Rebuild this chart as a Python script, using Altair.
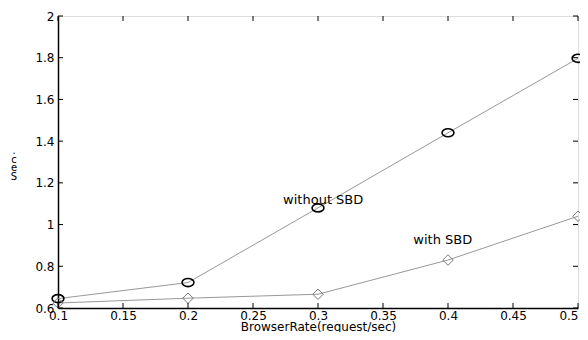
import altair as alt
import pandas as pd

rates = [0.1, 0.2, 0.3, 0.4, 0.5]
without_sbd = [0.645, 0.722, 1.08, 1.44, 1.797]
with_sbd = [0.624, 0.647, 0.666, 0.83, 1.04]

x_ticks = [0.1, 0.15, 0.2, 0.25, 0.3, 0.35, 0.4, 0.45, 0.5]
y_ticks = [0.6, 0.8, 1.0, 1.2, 1.4, 1.6, 1.8, 2.0]

ann_text = ["without SBD", "with SBD"]
ann_x = [0.304, 0.396]
ann_y = [1.12, 0.925]

y_title = ".\nc\ne\nS"

FONT = "DejaVu Sans"
W, H = 520, 292

df_w = pd.DataFrame({"x": rates, "y": without_sbd})
df_s = pd.DataFrame({"x": rates, "y": with_sbd})
df_ann = pd.DataFrame({"t": ann_text, "x": ann_x, "y": ann_y})
df_xt = pd.DataFrame({"x": x_ticks})
df_yt = pd.DataFrame({"y": y_ticks})
df_title = pd.DataFrame({"t": [y_title]})

xs = alt.Scale(domain=[0.1, 0.5], nice=False, zero=False)
ys = alt.Scale(domain=[0.6, 2.0], nice=False, zero=False)

xaxis = alt.Axis(values=x_ticks, format="~g", title="BrowserRate(request/sec)",
                 tickSize=0, labelPadding=2, domainColor="black", domainWidth=1.5,
                 labelFont=FONT, labelFontSize=12, labelColor="black",
                 labelAlign=alt.expr("datum.value >= 0.5 ? 'right' : 'center'"),
                 titleFont=FONT, titleFontSize=12, titleFontWeight="normal",
                 titleColor="black", titlePadding=0, grid=False,
                 labelFlush=False, labelOverlap=False)
yaxis = alt.Axis(values=y_ticks, format="~g", title=None,
                 tickSize=0, labelPadding=4, domainColor="black", domainWidth=1.5,
                 labelFont=FONT, labelFontSize=12, labelColor="black",
                 grid=False, labelFlush=False, labelOverlap=False)

ellipse = "M -1 0 A 1 0.68 0 1 0 1 0 A 1 0.68 0 1 0 -1 0 Z"

base_w = alt.Chart(df_w).encode(x=alt.X("x:Q", scale=xs, axis=xaxis),
                                y=alt.Y("y:Q", scale=ys, axis=yaxis))
line_w = base_w.mark_line(color="#8c8c8c", strokeWidth=0.9)
pts_w = base_w.mark_point(shape=ellipse, size=140, filled=False, color="black",
                          strokeWidth=1.6, opacity=1)

base_s = alt.Chart(df_s).encode(x=alt.X("x:Q", scale=xs), y=alt.Y("y:Q", scale=ys))
line_s = base_s.mark_line(color="#8c8c8c", strokeWidth=0.9)
pts_s = base_s.mark_point(shape="diamond", size=110, filled=False, color="#7a7a7a",
                          strokeWidth=1.0, opacity=1)

ann = alt.Chart(df_ann).mark_text(font=FONT, fontSize=13, color="black").encode(
    x=alt.X("x:Q", scale=xs), y=alt.Y("y:Q", scale=ys), text="t:N")

ytitle = alt.Chart(df_title).mark_text(font=FONT, fontSize=10, color="black",
                                       lineBreak="\n", lineHeight=8.5,
                                       baseline="top", align="center").encode(
    x=alt.value(-44), y=alt.value(130), text="t:N")

tick_len = 5
xt_bot = alt.Chart(df_xt).mark_rule(color="black", strokeWidth=1).encode(
    x=alt.X("x:Q", scale=xs), y=alt.value(H), y2=alt.value(H - tick_len))
xt_top = alt.Chart(df_xt).mark_rule(color="black", strokeWidth=1).encode(
    x=alt.X("x:Q", scale=xs), y=alt.value(0), y2=alt.value(tick_len))
yt_left = alt.Chart(df_yt).mark_rule(color="black", strokeWidth=1).encode(
    y=alt.Y("y:Q", scale=ys), x=alt.value(0), x2=alt.value(tick_len))
yt_right = alt.Chart(df_yt).mark_rule(color="black", strokeWidth=1).encode(
    y=alt.Y("y:Q", scale=ys), x=alt.value(W), x2=alt.value(W - tick_len))

chart = alt.layer(line_w, line_s, pts_w, pts_s, ann, ytitle,
                  xt_bot, xt_top, yt_left, yt_right).properties(
    width=W, height=H,
    padding={"left": 50, "top": 8, "right": 2, "bottom": 24},
    autosize=alt.AutoSizeParams(type="none"),
).configure_view(stroke="black", strokeWidth=1.5).configure(background="white")

chart.save("out.html", embed_options={"renderer": "svg", "actions": False})
